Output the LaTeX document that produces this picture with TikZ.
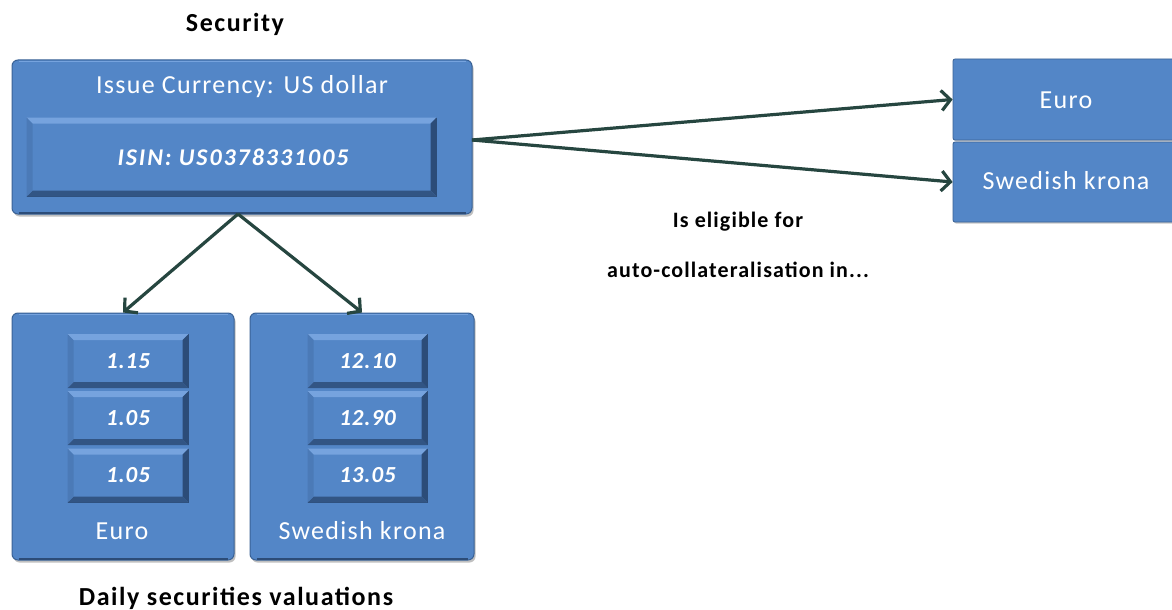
\documentclass[tikz,border=0pt]{standalone}
\usepackage{fontspec}
\setmainfont{Carlito}
\usetikzlibrary{arrows.meta,shadows}
\definecolor{boxblue}{RGB}{83,134,199}
\definecolor{boxedge}{RGB}{58,98,150}
\definecolor{bevlight}{RGB}{118,163,222}
\definecolor{bevdark}{RGB}{44,76,120}
\definecolor{arrowcol}{RGB}{38,70,64}
\tikzset{
  outerbox/.style={fill=boxblue, draw=boxedge, line width=1pt, rounded corners=6pt,
    drop shadow={shadow xshift=1.5pt, shadow yshift=-2.5pt, opacity=.35, fill=black!70}},
  flatbox/.style={fill=boxblue, draw=boxedge, line width=0.8pt, rounded corners=2pt,
    drop shadow={shadow xshift=1pt, shadow yshift=-1.5pt, opacity=.3, fill=black!70}},
  innerbox/.style={fill=boxblue, draw=bevdark, line width=1pt},
  whitetxt/.style={text=white, font=\fontsize{26}{30}\selectfont\addfontfeature{LetterSpace=5}},
  valtxt/.style={text=white, font=\fontsize{23}{27}\selectfont\bfseries\itshape\addfontfeature{LetterSpace=4}},
  captxt/.style={text=black, font=\fontsize{26}{30}\selectfont\bfseries\addfontfeature{LetterSpace=6}},
  midtxt/.style={text=black, font=\fontsize{22}{26}\selectfont\bfseries\addfontfeature{LetterSpace=5}},
  conn/.style={draw=arrowcol, line width=3.2pt, -{Straight Barb[length=9pt,width=20pt,line width=3.2pt]}},
}
\newcommand{\bevelit}[1]{%
  \fill[bevlight] (#1.north west) -- (#1.north east) -- ([shift={(-6pt,-6pt)}]#1.north east) -- ([shift={(6pt,-6pt)}]#1.north west) -- cycle;
  \fill[bevdark] (#1.north east) -- (#1.south east) -- ([shift={(-6pt,6pt)}]#1.south east) -- ([shift={(-6pt,-6pt)}]#1.north east) -- cycle;
  \fill[bevdark!85!boxblue] (#1.south west) -- (#1.south east) -- ([shift={(-6pt,6pt)}]#1.south east) -- ([shift={(6pt,6pt)}]#1.south west) -- cycle;
  \fill[boxblue!80!bevdark] (#1.north west) -- (#1.south west) -- ([shift={(6pt,6pt)}]#1.south west) -- ([shift={(6pt,-6pt)}]#1.north west) -- cycle;
}
\newcommand{\topshine}[1]{%
  \draw[bevlight, line width=1.5pt] ([shift={(7pt,-2pt)}]#1.north west) -- ([shift={(-7pt,-2pt)}]#1.north east);
  \draw[bevdark, line width=1.5pt] ([shift={(7pt,1.5pt)}]#1.south west) -- ([shift={(-7pt,1.5pt)}]#1.south east);
}
\begin{document}
\begin{tikzpicture}[x=1pt,y=1pt]
\useasboundingbox (0,0) rectangle (1172,-610);
\fill[white] (0,0) rectangle (1172,-610);

% titles
\node[captxt] (tsec) at (235,-24) {Security};
\node[captxt] (tdaily) at (236,-598) {Daily securities valuations};
\node[midtxt] (telig) at (738,-222) {Is eligible for};
\node[midtxt] (tauto) at (738,-270) {auto-collateralisation in...};

% security box
\node[outerbox, minimum width=460pt, minimum height=154pt, inner sep=0pt] (sec) at (242,-137) {};
\topshine{sec}
\node[whitetxt] (tissue) at (242,-87) {Issue Currency: US dollar};
\node[innerbox, minimum width=409pt, minimum height=78pt, inner sep=0pt] (isin) at (231.5,-157) {};
\bevelit{isin}
\node[valtxt, font=\fontsize{24}{28}\selectfont\bfseries\itshape\addfontfeature{LetterSpace=8}] (isintxt) at (233,-157) {ISIN: US0378331005};

% valuation boxes
\node[outerbox, minimum width=222pt, minimum height=247pt, inner sep=0pt] (veu) at (123,-436.5) {};
\topshine{veu}
\node[outerbox, minimum width=224pt, minimum height=247pt, inner sep=0pt] (vsek) at (362,-436.5) {};
\topshine{vsek}

\foreach \n/\y/\v in {a/-361/1.15, b/-418/1.05, c/-475.5/1.05} {
  \node[innerbox, minimum width=120pt, minimum height=53pt, inner sep=0pt] (eu\n) at (128,\y) {};
  \bevelit{eu\n}
  \node[valtxt] (eut\n) at (eu\n) {\v};
}
\foreach \n/\y/\v in {a/-361/12.10, b/-418/12.90, c/-475.5/13.05} {
  \node[innerbox, minimum width=119pt, minimum height=53pt, inner sep=0pt] (sk\n) at (367.5,\y) {};
  \bevelit{sk\n}
  \node[valtxt] (skt\n) at (sk\n) {\v};
}
\node[whitetxt] (leu) at (122,-531) {Euro};
\node[whitetxt] (lsek) at (362,-531) {Swedish krona};

% right boxes
\node[flatbox, minimum width=222pt, minimum height=81pt, inner sep=0pt] (reu) at (1064,-99.5) {};
\node[whitetxt] (reut) at (1066,-100) {Euro};
\node[flatbox, minimum width=222pt, minimum height=80pt, inner sep=0pt] (rsek) at (1064,-182) {};
\node[whitetxt] (rsekt) at (1066,-181) {Swedish krona};

% connectors
\coordinate (secR) at (472,-140);
\draw[conn] (secR) -- (reu.west);
\draw[conn] (secR) -- (rsek.west);
\coordinate (secB) at (238,-214);
\draw[conn] (secB) -- (veu.north);
\draw[conn] (secB) -- (vsek.north);
\end{tikzpicture}
\end{document}
